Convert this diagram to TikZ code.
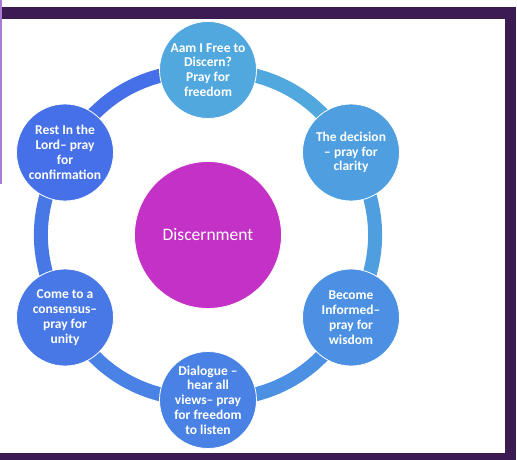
\documentclass[tikz,border=0pt]{standalone}
\usepackage{fontspec}
\setmainfont{Carlito}
\usepackage{xcolor}
\usepackage{tikz}
\usetikzlibrary{shapes,arrows,backgrounds,positioning}

\definecolor{frame}{HTML}{3C1A52}
\definecolor{lavender}{HTML}{A77BD6}
\definecolor{hub}{HTML}{C431C6}
\definecolor{cA}{HTML}{51A8DF}
\definecolor{cB}{HTML}{4E9EE0}
\definecolor{cC}{HTML}{4B90E2}
\definecolor{cD}{HTML}{4982E4}
\definecolor{cE}{HTML}{4878E6}
\definecolor{cF}{HTML}{4670E7}

\begin{document}
\begin{tikzpicture}[x=1pt, y=-1pt,
    % Styles for the discernment cycle
    stage/.style={circle, draw=white, line width=0.8pt, minimum size=97pt, inner sep=0pt,
        text=white, align=center, font=\fontsize{13.5}{14.8}\selectfont\bfseries},
    centre/.style={circle, draw=white, line width=0.8pt, fill=hub, minimum size=147pt,
        text=white, font=\fontsize{17.5}{19}\selectfont},
    ring/.style={line width=14pt, bend left=30}]

    % Canvas and frame
    \useasboundingbox (0,0) rectangle (517,460);
    \fill [frame] (2,7) rectangle (516,19);
    \fill [frame] (505,7) rectangle (516,460);
    \fill [frame] (0,453) rectangle (516,460);
    \fill [lavender] (0,0) rectangle (2,184);

    % Node: centre
    \node [centre] (discern) at (208,235) {Discernment};

    % Node: Am I free to discern
    \node [stage, fill=cA] (free) at (208,70) {Aam I Free to\\Discern?\\Pray for\\freedom};

    % Node: the decision
    \node [stage, fill=cB] (decision) at (351,152.5) {The decision\\– pray for\\clarity};

    % Node: become informed
    \node [stage, fill=cC] (informed) at (351,317.5) {Become\\Informed–\\pray for\\wisdom};

    % Node: dialogue
    \node [stage, fill=cD] (dialogue) at (208,400) {Dialogue –\\hear all\\views– pray\\for freedom\\to listen};

    % Node: consensus
    \node [stage, fill=cE] (consensus) at (65,317.5) {Come to a\\consensus–\\pray for\\unity};

    % Node: rest in the Lord
    \node [stage, fill=cF] (rest) at (65,152.5) {Rest In the\\Lord– pray\\for\\confirmation};

    % Ring (behind the stages)
    \begin{scope}[on background layer]
    \draw [ring, draw=cA] (free.center) to (decision.center);
    \draw [ring, draw=cB] (decision.center) to (informed.center);
    \draw [ring, draw=cC] (informed.center) to (dialogue.center);
    \draw [ring, draw=cD] (dialogue.center) to (consensus.center);
    \draw [ring, draw=cE] (consensus.center) to (rest.center);
    \draw [ring, draw=cF] (rest.center) to (free.center);
    \end{scope}

\end{tikzpicture}
\end{document}
